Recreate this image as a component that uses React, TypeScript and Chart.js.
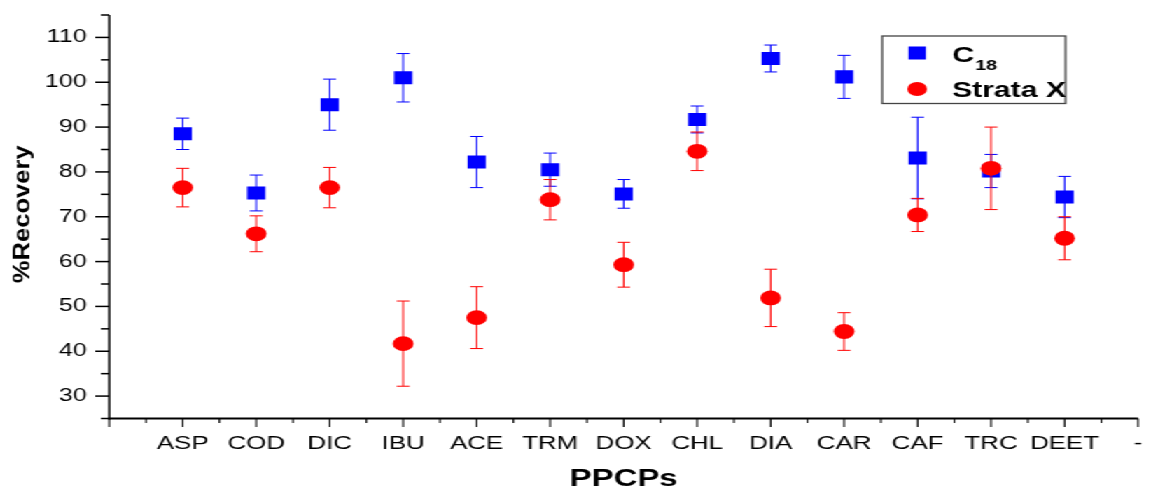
import React, { useEffect, useRef } from 'react';
import { Chart, registerables } from 'chart.js';

Chart.register(...registerables);

// ---------- data ----------
const categories = ['ASP', 'COD', 'DIC', 'IBU', 'ACE', 'TRM', 'DOX', 'CHL', 'DIA', 'CAR', 'CAF', 'TRC', 'DEET'];
const c18Values = [88.5, 75.3, 95.0, 101.0, 82.2, 80.5, 75.1, 91.7, 105.3, 101.2, 83.1, 80.2, 74.4];
const c18Errors = [3.5, 4.0, 5.7, 5.4, 5.7, 3.7, 3.2, 3.0, 3.0, 4.8, 9.1, 3.7, 4.6];
const strataValues = [76.5, 66.2, 76.5, 41.7, 47.5, 73.8, 59.3, 84.6, 51.9, 44.4, 70.4, 80.8, 65.2];
const strataErrors = [4.3, 4.0, 4.5, 9.5, 6.9, 4.5, 5.0, 4.3, 6.4, 4.2, 3.7, 9.2, 4.8];
const xTickLabels = ['', ...categories, '-'];
const yTickLabels = [30, 40, 50, 60, 70, 80, 90, 100, 110];

const FONT = '"Liberation Sans", Arial, sans-serif';
const STRETCH = 1151 / 822;

const errorsByIndex: number[][] = [c18Errors, strataErrors];
const errorColors = ['#0000ff', '#ff0000'];

const errorBarPlugin = {
  id: 'errorBars',
  beforeDatasetDraw(chart: any, args: any) {
    const i = args.index;
    const errs = errorsByIndex[i];
    if (!errs) return;
    const ds = chart.data.datasets[i];
    const { ctx, scales } = chart;
    const x = scales.x;
    const y = scales.y;
    ctx.save();
    ctx.strokeStyle = errorColors[i];
    ctx.lineWidth = 1;
    const cap = 4.6;
    ds.data.forEach((p: any, k: number) => {
      const px = x.getPixelForValue(p.x);
      const top = y.getPixelForValue(p.y + errs[k]);
      const bot = y.getPixelForValue(p.y - errs[k]);
      ctx.beginPath();
      ctx.moveTo(px, top);
      ctx.lineTo(px, bot);
      ctx.moveTo(px - cap, top);
      ctx.lineTo(px + cap, top);
      ctx.moveTo(px - cap, bot);
      ctx.lineTo(px + cap, bot);
      ctx.stroke();
    });
    ctx.restore();
  },
};

const axesPlugin = {
  id: 'originAxes',
  beforeDatasetsDraw(chart: any) {
    const { ctx, chartArea, scales } = chart;
    const x = scales.x;
    const y = scales.y;
    const left = chartArea.left;
    const bottom = chartArea.bottom;
    ctx.save();
    ctx.strokeStyle = '#000';
    // y ticks
    ctx.lineWidth = 1.5;
    for (let v = 25; v <= 115; v += 5) {
      const py = y.getPixelForValue(v);
      const len = v % 10 === 0 ? 10 : 6;
      ctx.beginPath();
      ctx.moveTo(left - len, py);
      ctx.lineTo(left, py);
      ctx.stroke();
    }
    // x ticks
    ctx.lineWidth = 1.1;
    for (let v = 0; v <= 14; v += 0.5) {
      const px = x.getPixelForValue(v);
      const len = Number.isInteger(v) ? 8.5 : 4.5;
      ctx.beginPath();
      ctx.moveTo(px, bottom);
      ctx.lineTo(px, bottom + len);
      ctx.stroke();
    }
    // y axis line
    ctx.lineWidth = 1.5;
    ctx.beginPath();
    ctx.moveTo(left, chartArea.top);
    ctx.lineTo(left, bottom + 1);
    ctx.stroke();
    // x axis line
    ctx.lineWidth = 2;
    ctx.beginPath();
    ctx.moveTo(left - 0.75, bottom);
    ctx.lineTo(chartArea.right, bottom);
    ctx.stroke();
    ctx.restore();
  },
  afterDraw(chart: any) {
    const { ctx, chartArea } = chart;
    // rotated y title
    ctx.save();
    ctx.translate(16.6, (chartArea.top + chartArea.bottom) / 2 - 2.5);
    ctx.rotate(-Math.PI / 2);
    ctx.scale(1.55, 1);
    ctx.font = `bold 16.5px ${FONT}`;
    ctx.fillStyle = '#000';
    ctx.textAlign = 'center';
    ctx.textBaseline = 'middle';
    ctx.fillText('%Recovery', 0, 0);
    ctx.restore();

    // legend
    ctx.save();
    const bx = 630, by = 36, bw = 131, bh = 67.5;
    ctx.strokeStyle = '#444';
    ctx.lineWidth = 1.3;
    ctx.strokeRect(bx, by, bw, bh);
    ctx.fillStyle = '#0000ff';
    ctx.fillRect(655 - 6.2, 53 - 6.5, 12.4, 13);
    ctx.fillStyle = '#ff0000';
    ctx.beginPath();
    ctx.arc(655, 89, 7, 0, Math.PI * 2);
    ctx.fill();
    ctx.fillStyle = '#000';
    ctx.textAlign = 'left';
    ctx.textBaseline = 'alphabetic';
    ctx.font = `bold 22px ${FONT}`;
    ctx.fillText('C', 680, 62);
    const cw = ctx.measureText('C').width;
    ctx.font = `bold 14px ${FONT}`;
    ctx.fillText('18', 680 + cw + 0.5, 69.5);
    ctx.font = `bold 21.5px ${FONT}`;
    ctx.fillText('Strata X', 680, 97);
    ctx.restore();
  },
};

export default function App() {
  const canvasRef = useRef<HTMLCanvasElement | null>(null);

  useEffect(() => {
    if (!canvasRef.current) return;
    Chart.defaults.font.family = FONT;
    Chart.defaults.color = '#000';
    const chart = new Chart(canvasRef.current, {
      type: 'scatter',
      data: {
        datasets: [
          {
            label: 'C18',
            data: categories.map((_, i) => ({ x: i + 1, y: c18Values[i] })),
            pointStyle: 'rect',
            pointRadius: 9.2,
            pointHoverRadius: 9.2,
            backgroundColor: '#0000ff',
            borderWidth: 0,
            order: 2,
          },
          {
            label: 'Strata X',
            data: categories.map((_, i) => ({ x: i + 1, y: strataValues[i] })),
            pointStyle: 'circle',
            pointRadius: 7.4,
            pointHoverRadius: 7.4,
            backgroundColor: '#ff0000',
            borderWidth: 0,
            order: 1,
          },
        ],
      },
      options: {
        animation: false,
        responsive: true,
        maintainAspectRatio: false,
        layout: { padding: { top: 15, left: 0, right: 0, bottom: 0 } },
        plugins: {
          legend: { display: false },
          tooltip: { enabled: false },
        },
        scales: {
          x: {
            type: 'linear',
            position: 'bottom',
            min: 0,
            max: 14,
            afterBuildTicks: (s: any) => {
              s.ticks = xTickLabels.map((_, i) => ({ value: i }));
            },
            ticks: {
              autoSkip: false,
              maxRotation: 0,
              padding: 14,
              color: '#000',
              font: { size: 18.5 },
              callback: (v: any) => xTickLabels[v] ?? '',
            },
            grid: { display: false, drawTicks: false },
            border: { display: false },
            title: {
              display: true,
              text: 'PPCPs',
              color: '#000',
              font: { size: 23.5, weight: 'bold' },
              padding: { top: 0, bottom: -5.5 },
            },
            afterFit: (s: any) => {
              s.height = 69.5;
              s.paddingLeft = 0;
              s.paddingRight = 0;
            },
          },
          y: {
            type: 'linear',
            min: 25,
            max: 115,
            afterBuildTicks: (s: any) => {
              s.ticks = yTickLabels.map((v) => ({ value: v }));
            },
            ticks: {
              padding: 16,
              color: '#000',
              font: { size: 18 },
              callback: (v: any) => String(v),
            },
            grid: { display: false, drawTicks: false },
            border: { display: false },
            afterFit: (s: any) => {
              s.width = 78;
              s.paddingTop = 0;
              s.paddingBottom = 0;
            },
          },
        },
      },
      plugins: [axesPlugin, errorBarPlugin],
    } as any);
    return () => chart.destroy();
  }, []);

  return (
    <div
      style={{
        position: 'absolute',
        left: 0,
        top: 0,
        width: 822,
        height: 488,
        transform: `scaleX(${STRETCH})`,
        transformOrigin: '0 0',
        background: '#fff',
      }}
    >
      <canvas ref={canvasRef} />
    </div>
  );
}
